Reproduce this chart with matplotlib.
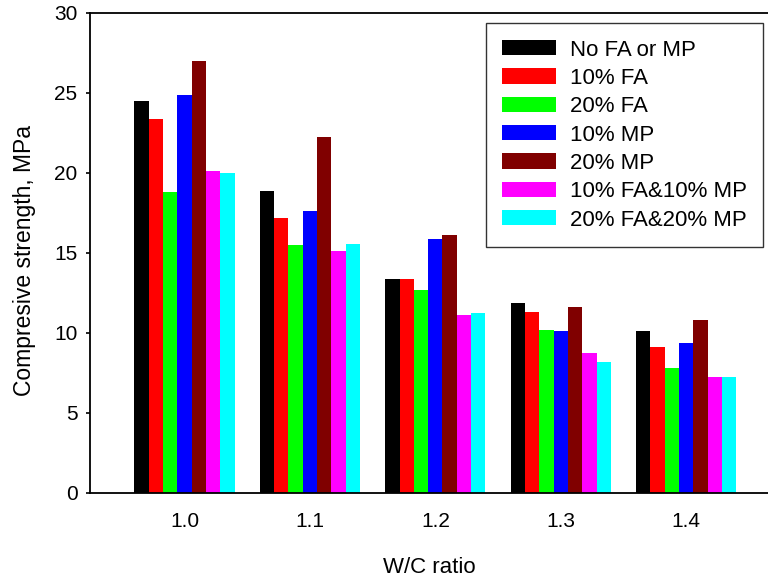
import matplotlib
matplotlib.use("Agg")
import matplotlib.pyplot as plt
import numpy as np

plt.rcParams['font.family'] = ['Liberation Sans', 'DejaVu Sans']

wc_ratios = ["1.0", "1.1", "1.2", "1.3", "1.4"]
series_names = ["No FA or MP", "10% FA", "20% FA", "10% MP", "20% MP",
                "10% FA&10% MP", "20% FA&20% MP"]
series_colors = ["#000000", "#ff0000", "#00ff00", "#0000ff", "#800000",
                 "#ff00ff", "#00ffff"]

no_fa_mp = [24.5, 18.85, 13.35, 11.9, 10.15]
fa10 = [23.35, 17.2, 13.4, 11.3, 9.1]
fa20 = [18.8, 15.5, 12.7, 10.2, 7.8]
mp10 = [24.85, 17.65, 15.9, 10.1, 9.4]
mp20 = [27.0, 22.25, 16.1, 11.65, 10.8]
fa10_mp10 = [20.15, 15.15, 11.1, 8.75, 7.25]
fa20_mp20 = [20.0, 15.55, 11.25, 8.2, 7.25]

series = [no_fa_mp, fa10, fa20, mp10, mp20, fa10_mp10, fa20_mp20]

fig = plt.figure(figsize=(7.68, 5.77), dpi=100)
ax = fig.add_axes([90/768, 1 - 493/577, 1 - 90/768, (493 - 13)/577])

x = np.arange(len(wc_ratios))
n = len(series)
width = 0.8 / n
for i, (vals, name, col) in enumerate(zip(series, series_names, series_colors)):
    offs = (i - (n - 1) / 2) * width
    ax.bar(x + offs, vals, width=width, color=col, label=name,
           edgecolor='none', linewidth=0)

ax.set_xlim(-0.754, 4.653)
ax.set_ylim(0, 30)
ax.set_yticks([0, 5, 10, 15, 20, 25, 30])
ax.set_xticks(x)
ax.set_xticklabels(wc_ratios)
ax.tick_params(axis='x', length=0, pad=13.5, labelsize=15)
ax.tick_params(axis='y', direction='out', length=3, width=1.2, pad=6,
               labelsize=15)
for s in ['left', 'bottom', 'top']:
    ax.spines[s].set_linewidth(1.3)
ax.spines['right'].set_visible(False)

ax.set_xlabel("W/C ratio", fontsize=16, labelpad=19)
ax.set_ylabel("Compresive strength, MPa", fontsize=16.5, labelpad=13)
ax.yaxis.label.set_y(0.485)

leg = ax.legend(loc='upper right', bbox_to_anchor=(0.9926, 0.979),
                borderaxespad=0, fontsize=16, frameon=True, fancybox=False,
                handlelength=2.4, handleheight=0.68, handletextpad=0.63,
                labelspacing=0.33, borderpad=0.74)
leg.get_frame().set_edgecolor('black')
leg.get_frame().set_linewidth(1.0)

fig.savefig("out.png", dpi=100)
